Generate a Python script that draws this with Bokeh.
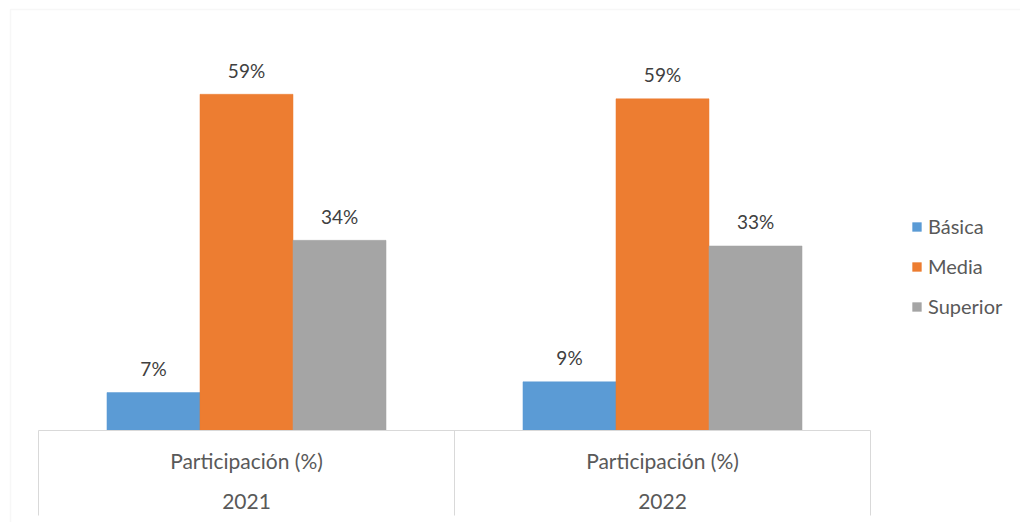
from bokeh.plotting import figure
from bokeh.models import Range1d, ColumnDataSource, Legend, LegendItem, BoxAnnotation
from bokeh.core.properties import value
from bokeh.embed import file_html
from bokeh.resources import INLINE

# ---- data ----
years = ["2021", "2022"]
cat_label = "Participación (%)"
series = ["Básica", "Media", "Superior"]
basica = [6.7, 8.6]
media = [59.4, 58.6]
superior = [33.6, 32.6]

colors = ["#5B9BD5", "#ED7D31", "#A5A5A5"]
FONT = "Lato"

# ---- layout constants (pixels) ----
W, H = 1020, 522
PX_PER_PCT = 5.66      # vertical scale
PX_PER_CAT = 416       # width of one category slot
CAT_LEFT = 38          # left edge of first category slot
BASE_Y = 430           # baseline (value 0)

x_start = -0.5 - CAT_LEFT / PX_PER_CAT
p = figure(width=W, height=H,
           x_range=Range1d(x_start, x_start + W / PX_PER_CAT),
           y_range=Range1d(-(H - BASE_Y) / PX_PER_PCT, BASE_Y / PX_PER_PCT),
           output_backend="svg", toolbar_location=None,
           x_axis_location=None, y_axis_location=None,
           min_border_left=0, min_border_right=0,
           min_border_top=0, min_border_bottom=0)
p.grid.visible = False
p.outline_line_color = None
p.background_fill_color = "white"
p.border_fill_color = "white"

idx = list(range(len(years)))
fmt = lambda vals: [f"{round(v):.0f}%" for v in vals]
src = ColumnDataSource(dict(
    idx=idx, year=years, basica=basica, media=media, superior=superior,
    basica_lbl=fmt(basica), media_lbl=fmt(media), superior_lbl=fmt(superior),
    cat=[cat_label] * len(years), zero=[0] * len(years),
))

bw = 0.2236
offs = [-bw, 0.0, bw]
cols = ["basica", "media", "superior"]
renderers = []
for name, col, off, color in zip(series, cols, offs, colors):
    xs = [i + off for i in idx]
    s = ColumnDataSource(dict(x=xs, top=src.data[col], lbl=src.data[col + "_lbl"]))
    r = p.vbar(x="x", top="top", width=bw, bottom=0, source=s,
               fill_color=color, line_color=color, line_width=0.5)
    renderers.append(r)
    p.text(x="x", y="top", text="lbl", source=s,
           text_align="center", text_baseline="alphabetic", y_offset=-24,
           text_font=value(FONT), text_font_size="19px", text_color="#404040")

# ---- category axis box ----
axis_color = "#D9D9D9"
yline_end = -(515 - BASE_Y) / PX_PER_PCT
edges = [i - 0.5 for i in idx] + [idx[-1] + 0.5]
p.segment(x0=edges, y0=[0] * len(edges), x1=edges, y1=[yline_end] * len(edges),
          line_color=axis_color, line_width=1)
p.segment(x0=[edges[0]], y0=[0], x1=[edges[-1]], y1=[0],
          line_color=axis_color, line_width=1)

p.text(x="idx", y="zero", text="cat", source=src, text_align="center",
       text_baseline="alphabetic", y_offset=30,
       text_font=value(FONT), text_font_size="21px", text_color="#595959")
p.text(x="idx", y="zero", text="year", source=src, text_align="center",
       text_baseline="alphabetic", y_offset=71,
       text_font=value(FONT), text_font_size="21px", text_color="#595959")

# ---- legend ----
legend = Legend(items=[LegendItem(label=s, renderers=[r]) for s, r in zip(series, renderers)],
                location=(911, 204), orientation="vertical",
                border_line_color=None, background_fill_alpha=0,
                padding=0, margin=0, glyph_width=11, glyph_height=11,
                label_standoff=6, spacing=16,
                label_text_font=FONT, label_text_font_size="20px",
                label_text_color="#595959")
p.add_layout(legend, "center")

# ---- chart-area border (top and left edges visible) ----
border = BoxAnnotation(left=10, right=3000, top=H - 9, bottom=-200,
                       left_units="screen", right_units="screen",
                       top_units="screen", bottom_units="screen",
                       fill_alpha=0, line_color="#E3E3E3", line_width=1.5)
p.add_layout(border)

open("out.html", "w").write(file_html(p, INLINE))
